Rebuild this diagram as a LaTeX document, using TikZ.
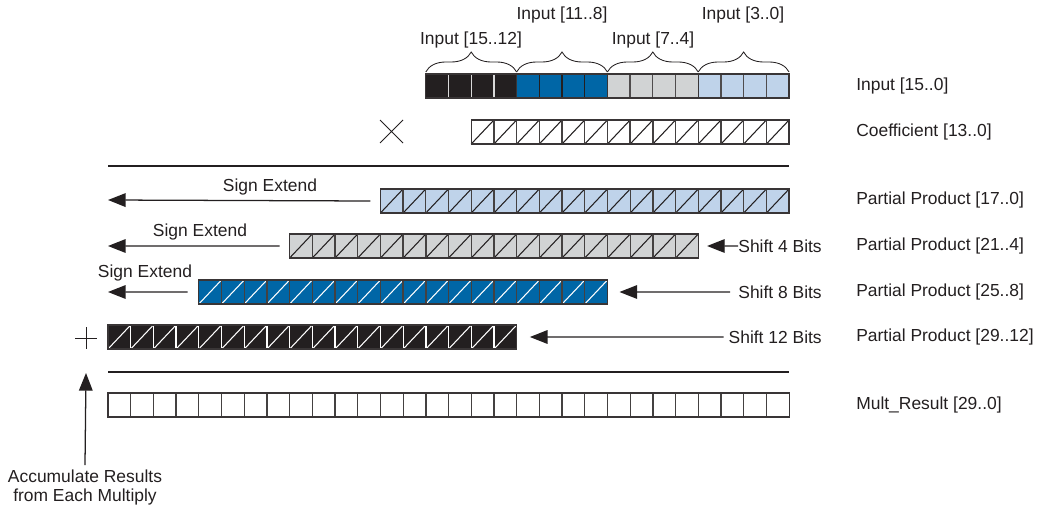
\documentclass[tikz,border=0pt]{standalone}
\usepackage{fontspec}
\setmainfont{Liberation Sans}
\usetikzlibrary{arrows.meta,decorations.pathreplacing}

\definecolor{ablack}{HTML}{231F20}
\definecolor{ablue}{HTML}{0066A6}
\definecolor{agray}{HTML}{D1D3D4}
\definecolor{alight}{HTML}{BFD3EA}

\newcommand{\cw}{0.5675cm}
\newcommand{\ch}{0.6cm}
% name, x, y, cells, fill, separator colour, diagonal colour
\newcommand{\bitrow}[7]{%
    \node[rowbox,fill=#5,minimum width={#4*\cw},anchor=north west] (#1) at (#2,#3) {};
    \foreach \k in {1,...,#4} {
        \draw[diag,draw=#7] ([xshift={(\k-1)*\cw}]#1.south west) -- ++(\cw,\ch);
    }
    \foreach \k in {2,...,#4} {
        \draw[sep,draw=#6] ([xshift={(\k-1)*\cw}]#1.south west) -- ++(0,\ch);
    }
    \draw[edge] (#1.south west) rectangle (#1.north east);
}

\tikzset{
    rowbox/.style={draw=none,inner sep=0,outer sep=0,minimum height=\ch},
    diag/.style={line width=0.75pt},
    sep/.style={line width=0.95pt},
    edge/.style={line width=0.95pt,draw=ablack!90},
    lbl/.style={inner sep=0,text=ablack,font=\fontsize{12.4}{13.5}\selectfont},
    arr/.style={line width=0.9pt,draw=ablack,-{Triangle[length=4.4mm,width=3.4mm]}},
    rule/.style={line width=2pt,draw=ablack},
    brc/.style={decorate,decoration={brace,amplitude=5mm},line width=0.6pt,draw=ablack}
}

\begin{document}
\begin{tikzpicture}[x=0.025cm,y=-0.025cm]
    \useasboundingbox (0,0) rectangle (1042,526);

    \bitrow{in3}{425.8}{74}{4}{ablack}{white!85!black}{none}
    \bitrow{in2}{516.6}{74}{4}{ablue}{ablack}{none}
    \bitrow{in1}{607.4}{74}{4}{agray}{ablack!80}{none}
    \bitrow{in0}{698.2}{74}{4}{alight}{ablack!80}{none}

    \draw[brc] ([yshift=0.5mm]in3.north west) -- ([yshift=0.5mm]in3.north east);
    \draw[brc] ([yshift=0.5mm]in2.north west) -- ([yshift=0.5mm]in2.north east);
    \draw[brc] ([yshift=0.5mm]in1.north west) -- ([yshift=0.5mm]in1.north east);
    \draw[brc] ([yshift=0.5mm]in0.north west) -- ([yshift=0.5mm]in0.north east);
    \node[lbl] (tin3) at (471,40) {Input [15..12]};
    \node[lbl] (tin2) at (562,15) {Input [11..8]};
    \node[lbl] (tin1) at (653,40) {Input [7..4]};
    \node[lbl] (tin0) at (743,15) {Input [3..0]};

    \bitrow{coef}{471.2}{120}{14}{white}{ablack!85}{ablack}
    \draw[line width=0.6pt,ablack] (380,120)--(403,143) (380,143)--(403,120);

    \draw[rule] (108,166)--(789,166);

    \bitrow{pp0}{380.4}{189}{18}{alight}{ablack!85}{ablack}
    \bitrow{pp1}{289.6}{234}{18}{agray}{ablack!85}{ablack}
    \bitrow{pp2}{198.8}{280}{18}{ablue}{ablack!85}{white}
    \bitrow{pp3}{108}{325}{18}{ablack}{white}{white}
    \draw[line width=0.6pt,ablack] (75,338)--(97,338) (86,327)--(86,349);

    \coordinate (se0) at (108,200);
    \coordinate (se1) at (108,246);
    \coordinate (se2) at (108,292);
    \node[lbl] (tse0) at (270,187) {Sign Extend};
    \node[lbl] (tse1) at (200,232) {Sign Extend};
    \node[lbl] (tse2) at (145,273) {Sign Extend};
    \draw[arr] ([xshift=-2.5mm]pp0.west) -- (se0);
    \draw[arr] ([xshift=-2.5mm]pp1.west) -- (se1);
    \draw[arr] ([xshift=-2.8mm]pp2.west) -- (se2);

    \node[lbl,anchor=east] (sh4) at (822,246) {Shift 4 Bits};
    \node[lbl,anchor=east] (sh8) at (822,292) {Shift 8 Bits};
    \node[lbl,anchor=east] (sh12) at (822,337) {Shift 12 Bits};
    \draw[arr] (sh4.west) -- ([xshift=2.2mm]pp1.east);
    \draw[arr] ([xshift=-2mm]sh8.west) -- ([xshift=3mm]pp2.east);
    \draw[arr] ([xshift=-1.2mm]sh12.west) -- ([xshift=3.3mm]pp3.east);

    \draw[rule] (108,372)--(789,372);
    \bitrow{res}{108}{393}{30}{white}{ablack!85}{none}

    \node[lbl,align=center] (acc) at (85,487) {Accumulate Results\\from Each Multiply};
    \coordinate (acctip) at (86,373);
    \draw[arr] ([yshift=1mm]acc.north) -- (acctip);

    \node[lbl,anchor=west] (lin) at (856,86) {Input [15..0]};
    \node[lbl,anchor=west] (lcoef) at (856,132) {Coefficient [13..0]};
    \node[lbl,anchor=west] (lpp0) at (856,200) {Partial Product [17..0]};
    \node[lbl,anchor=west] (lpp1) at (856,246) {Partial Product [21..4]};
    \node[lbl,anchor=west] (lpp2) at (856,292) {Partial Product [25..8]};
    \node[lbl,anchor=west] (lpp3) at (856,337) {Partial Product [29..12]};
    \node[lbl,anchor=west] (lres) at (856,405) {Mult\_Result [29..0]};
\end{tikzpicture}
\end{document}
